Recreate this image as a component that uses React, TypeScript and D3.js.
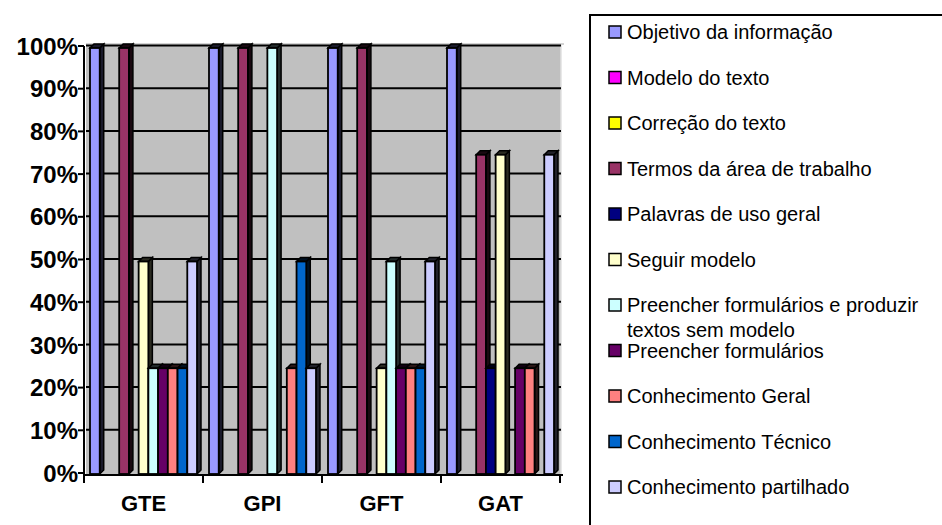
import * as d3 from 'd3';

const categories = ['GTE', 'GPI', 'GFT', 'GAT'];

const seriesNames = [
  'Objetivo da informação',
  'Modelo do texto',
  'Correção do texto',
  'Termos da área de trabalho',
  'Palavras de uso geral',
  'Seguir modelo',
  'Preencher formulários e produzir textos sem modelo',
  'Preencher formulários',
  'Conhecimento Geral',
  'Conhecimento Técnico',
  'Conhecimento partilhado',
];

const seriesColors = [
  '#9999FF', '#FF00FF', '#FFFF00', '#993366', '#000080', '#FFFFCC',
  '#CCFFFF', '#660066', '#FF8080', '#0066CC', '#CCCCFF',
];

// one row per category, one value per series (share of 1)
const gteValues = [1, 0, 0, 1, 0, 0.5, 0.25, 0.25, 0.25, 0.25, 0.5];
const gpiValues = [1, 0, 0, 1, 0, 0, 1, 0, 0.25, 0.5, 0.25];
const gftValues = [1, 0, 0, 1, 0, 0.25, 0.5, 0.25, 0.25, 0.25, 0.5];
const gatValues = [1, 0, 0, 0.75, 0.25, 0.75, 0, 0.25, 0.25, 0, 0.75];
const valuesByCategory = [gteValues, gpiValues, gftValues, gatValues];

const yTicks = [0, 0.1, 0.2, 0.3, 0.4, 0.5, 0.6, 0.7, 0.8, 0.9, 1];

const legendLines: Record<number, string[]> = {
  6: ['Preencher formulários e produzir', 'textos sem modelo'],
};

const W = 942;
const H = 525;
const FONT = "Arial, 'Liberation Sans', sans-serif";
const DEPTH = 4; // 3d offset of the bars and the back wall

export default function App() {
  const x = d3.scaleBand<string>().domain(categories).range([84, 560]);
  const inner = d3.scaleBand<string>()
    .domain(seriesNames)
    .range([6, 6 + 107]);
  const y = d3.scaleLinear().domain([0, 1]).range([475, 48]);
  const pct = d3.format('.0%');

  const wallLeft = 86;
  const wallRight = 561;

  return (
    <div style={{ position: 'fixed', left: 0, top: 0, width: W, height: H, background: '#fff', overflow: 'hidden' }}>
      <svg width={W} height={H} style={{ display: 'block' }}>
        {/* back wall */}
        <rect x={wallLeft} y={y(1) - 3} width={wallRight - wallLeft} height={y(0) - y(1) + 3} fill="#C0C0C0" />
        <line x1={wallLeft} x2={wallRight + 3} y1={y(1) - 4} y2={y(1) - 4} stroke="#A8A8A8" strokeWidth={1} />
        <line x1={wallRight} x2={wallRight} y1={y(1) - 3} y2={y(0)} stroke="#E0E0E0" strokeWidth={1.5} />
        {yTicks.slice(1).map(t => (
          <line key={t} x1={wallLeft} x2={wallRight} y1={y(t) - 2.5} y2={y(t) - 2.5} stroke="#000" strokeWidth={2} />
        ))}

        {/* bars */}
        {categories.map((cat, ci) => (
          <g key={cat} transform={`translate(${x(cat)},0)`}>
            {valuesByCategory[ci].map((v, si) => {
              if (v <= 0) return null;
              const name = seriesNames[si];
              const bx = inner(name) ?? 0;
              const bw = inner.bandwidth();
              const top = y(v);
              const bottom = y(0) - 1;
              const color = seriesColors[si];
              const side = d3.color(color)!.darker(5).formatHex();
              return (
                <g key={name}>
                  <polygon
                    points={`${bx + bw},${top} ${bx + bw + DEPTH},${top - DEPTH} ${bx + bw + DEPTH},${bottom - DEPTH} ${bx + bw},${bottom}`}
                    fill={side}
                    stroke="#000"
                    strokeWidth={1.5}
                  />
                  <polygon
                    points={`${bx},${top} ${bx + DEPTH},${top - DEPTH} ${bx + bw + DEPTH},${top - DEPTH} ${bx + bw},${top}`}
                    fill={side}
                    stroke="#000"
                    strokeWidth={1.5}
                  />
                  <rect x={bx} y={top} width={bw} height={bottom - top} fill={color} stroke="#000" strokeWidth={1.8} />
                </g>
              );
            })}
          </g>
        ))}

        {/* y axis */}
        <line x1={84} x2={84} y1={y(1) - 2} y2={y(0)} stroke="#000" strokeWidth={2} />
        {yTicks.map(t => (
          <g key={t} transform={`translate(0,${y(t) - 2})`}>
            <line x1={78} x2={84} stroke="#000" strokeWidth={2} />
            <text
              x={78}
              dy="0.36em"
              textAnchor="end"
              fontFamily={FONT}
              fontWeight="bold"
              fontSize={24}
            >
              {pct(t)}
            </text>
          </g>
        ))}

        {/* x axis */}
        <line x1={83} x2={563} y1={y(0)} y2={y(0)} stroke="#000" strokeWidth={2} />
        {[...categories.map(c => x(c) ?? 0), 560].map((tx, i) => (
          <line key={i} x1={tx} x2={tx} y1={y(0)} y2={y(0) + 8} stroke="#000" strokeWidth={2} />
        ))}
        {categories.map(c => (
          <text
            key={c}
            x={(x(c) ?? 0) + x.bandwidth() / 2}
            y={511}
            textAnchor="middle"
            fontFamily={FONT}
            fontWeight="bold"
            fontSize={22}
          >
            {c}
          </text>
        ))}

        {/* legend (box runs off the right and bottom edges) */}
        <path d="M590,600 V15 H1000" fill="none" stroke="#000" strokeWidth={2} />
        {seriesNames.map((name, i) => {
          const cy = 32 + i * 45.5;
          const lines = legendLines[i] ?? [name];
          return (
            <g key={name}>
              <rect x={609} y={cy - 6} width={12} height={12} fill={seriesColors[i]} stroke="#000" strokeWidth={1.5} />
              {lines.map((ln, li) => (
                <text
                  key={li}
                  x={627}
                  y={cy + li * 25}
                  dy="0.36em"
                  fontFamily={FONT}
                  fontSize={20}
                  fill="#000"
                >
                  {ln}
                </text>
              ))}
            </g>
          );
        })}
      </svg>
    </div>
  );
}
